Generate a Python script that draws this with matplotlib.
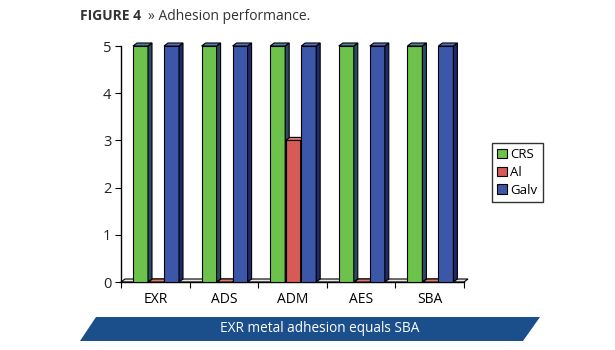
import matplotlib
matplotlib.use("Agg")
from matplotlib import pyplot as plt
from matplotlib.patches import Polygon
import numpy as np

categories = ["EXR", "ADS", "ADM", "AES", "SBA"]
series_names = ["CRS", "Al", "Galv"]
crs = [5, 5, 5, 5, 5]
al = [0, 0, 3, 0, 0]
galv = [5, 5, 5, 5, 5]

front = ["#6cc24a", "#d65a55", "#3c57a8"]
tops = ["#4a86a8", "#e07a72", "#5576c8"]
sides = ["#2c4a62", "#8a3030", "#1e2a6c"]

W, H = 615, 350
fig = plt.figure(figsize=(W / 100, H / 100), dpi=100)
ax = fig.add_axes([121 / W, 1 - 282 / H, (464 - 121) / W, (282 - 46) / H])
ax.set_xlim(0, 5)
ax.set_ylim(0, 5)

# pseudo-3D depth, in data units (4 px right, 3 px up)
px = (464 - 121) / 5
dx = 4 / px
dy = 3 * 5 / (282 - 46)

# floor
ax.add_patch(Polygon([(0, 0), (5, 0), (5 + dx, dy), (dx, dy)], closed=True,
                     facecolor="#e6e6e6", edgecolor="black", lw=0.8, zorder=1, clip_on=False))

bw = 15 / px
x = np.arange(len(categories))
offsets = [12, 27.5, 43]
for i, vals in enumerate([crs, al, galv]):
    xs = x + offsets[i] / px
    ax.bar(xs, vals, width=bw, align="edge", color=front[i], edgecolor="black",
           lw=0.8, zorder=3 + i, label=series_names[i])
    for x0, v in zip(xs, vals):
        x1 = x0 + bw
        ax.add_patch(Polygon([(x1, 0), (x1 + dx, dy), (x1 + dx, v + dy), (x1, v)], closed=True,
                             facecolor=sides[i], edgecolor="black", lw=0.8, zorder=3 + i, clip_on=False))
        ax.add_patch(Polygon([(x0, v), (x1, v), (x1 + dx, v + dy), (x0 + dx, v + dy)], closed=True,
                             facecolor=tops[i], edgecolor="black", lw=0.8, zorder=3 + i, clip_on=False))

for s in ["top", "right"]:
    ax.spines[s].set_visible(False)
ax.spines["left"].set_linewidth(1)
ax.spines["bottom"].set_linewidth(1)
ax.set_yticks(range(6))
ax.set_xticks(np.arange(6))
ax.set_xticklabels([])
ax.set_xticks(x + 0.5, minor=True)
ax.set_xticklabels(categories, minor=True)
ax.tick_params(axis="x", which="minor", length=0, pad=7)
ax.tick_params(axis="x", which="major", length=4, direction="out")
ax.tick_params(axis="y", length=4, direction="out", pad=3)
ax.tick_params(labelsize=10.5, labelcolor="#222222")
for lab in ax.get_xticklabels(minor=True) + ax.get_yticklabels():
    lab.set_fontfamily("Open Sans")

leg = ax.legend(loc="upper left", bbox_to_anchor=(492 / W, 1 - 143 / H), bbox_transform=fig.transFigure,
                borderaxespad=0, frameon=True, fancybox=False, edgecolor="black",
                handlelength=0.7, handleheight=0.7, handletextpad=0.3, borderpad=0.4,
                labelspacing=0.35, prop={"family": "Open Sans", "size": 9.5})
leg.get_frame().set_linewidth(1)

fig.text(80 / W, 1 - 16 / H, "FIGURE 4", fontsize=10, fontweight="bold", color="#333333",
         family="Open Sans", va="center")
fig.text(148 / W, 1 - 16 / H, "» Adhesion performance.", fontsize=10, color="#333333",
         family="Open Sans", va="center")

banner = Polygon([(80 / W, 1 - 341 / H), (96 / W, 1 - 317 / H), (540 / W, 1 - 317 / H), (523 / W, 1 - 341 / H)],
                 closed=True, transform=fig.transFigure, facecolor="#1b4f8c", edgecolor="none")
fig.patches.append(banner)
fig.text(320 / W, 1 - 329 / H, "EXR metal adhesion equals SBA", fontsize=9.8, color="white",
         family="Open Sans", ha="center", va="center")

fig.savefig("out.png", dpi=100)
